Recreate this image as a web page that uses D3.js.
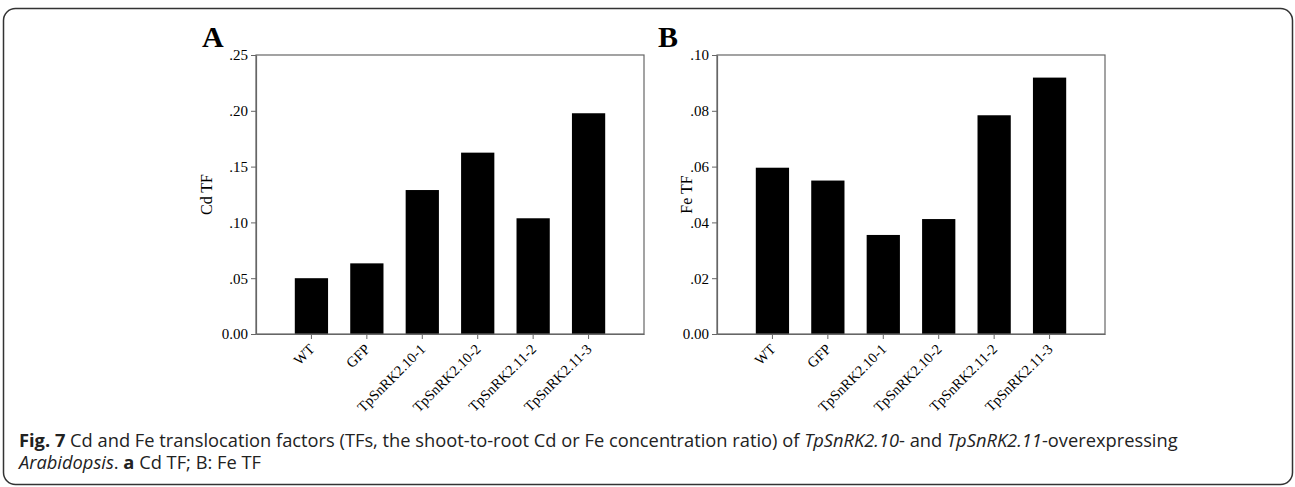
<!DOCTYPE html>
<html>
<head>
<meta charset="utf-8">
<script src="https://cdn.jsdelivr.net/npm/d3@7"></script>
<style>
  html, body { margin: 0; padding: 0; background: #fff; }
  svg { display: block; }
</style>
</head>
<body>
<svg id="chart" width="1295" height="487"></svg>
<script>
const categories = ["WT", "GFP", "TpSnRK2.10-1", "TpSnRK2.10-2", "TpSnRK2.11-2", "TpSnRK2.11-3"];
const cdValues = [0.050, 0.0633, 0.129, 0.1625, 0.1037, 0.1978];
const feValues = [0.0596, 0.0550, 0.0355, 0.0412, 0.0784, 0.0919];
const cdTicks = [0, 0.05, 0.10, 0.15, 0.20, 0.25];
const feTicks = [0, 0.02, 0.04, 0.06, 0.08, 0.10];
const cdTickLabels = ["0.00", ".05", ".10", ".15", ".20", ".25"];
const feTickLabels = ["0.00", ".02", ".04", ".06", ".08", ".10"];

const svg = d3.select("#chart");

// outer rounded frame
svg.append("rect")
  .attr("x", 3.5).attr("y", 8.5)
  .attr("width", 1289).attr("height", 476)
  .attr("rx", 12).attr("ry", 12)
  .attr("fill", "none").attr("stroke", "#333").attr("stroke-width", 1.5);

const serif = "'Liberation Serif', 'Times New Roman', serif";

function panel(opts) {
  const { left, top, width, height, values, ticks, tickLabels, yMax, yLabel, letter, letterX, yLabelX } = opts;
  const g = svg.append("g").attr("transform", `translate(${left},${top})`);
  const x = d3.scaleBand().domain(categories).range([0, width]).paddingInner(0.4).paddingOuter(0.7);
  const y = d3.scaleLinear().domain([0, yMax]).range([height, 0]);

  // bars
  g.selectAll("rect.bar").data(values).enter().append("rect")
    .attr("class", "bar")
    .attr("x", (d, i) => x(categories[i]))
    .attr("y", d => y(d))
    .attr("width", x.bandwidth())
    .attr("height", d => height - y(d))
    .attr("fill", "#000");

  // box
  g.append("rect").attr("x", 0).attr("y", 0).attr("width", width).attr("height", height)
    .attr("fill", "none").attr("stroke", "#666").attr("stroke-width", 1.2);

  // y axis
  const yAxis = d3.axisLeft(y).tickValues(ticks).tickFormat((d, i) => tickLabels[i]).tickSize(5).tickSizeOuter(0);
  const ya = g.append("g").call(yAxis);
  ya.attr("font-size", null).attr("font-family", null);
  ya.select(".domain").attr("stroke", "#666").attr("stroke-width", 1.2);
  ya.selectAll(".tick line").attr("stroke", "#666");
  ya.selectAll(".tick text").style("font-family", serif).style("font-size", "15px").attr("fill", "#000").attr("x", -8);

  // x axis
  const xAxis = d3.axisBottom(x).tickSize(5).tickSizeOuter(0);
  const xa = g.append("g").attr("transform", `translate(0,${height})`).call(xAxis);
  xa.attr("font-size", null).attr("font-family", null);
  xa.select(".domain").attr("stroke", "#666").attr("stroke-width", 1.2);
  xa.selectAll(".tick line").attr("stroke", "#666");
  xa.selectAll(".tick text")
    .style("font-family", serif).style("font-size", "14.5px").attr("fill", "#000")
    .attr("text-anchor", "end")
    .attr("dy", 0).attr("y", 0)
    .attr("transform", "translate(4,16) rotate(-45)");

  // y label
  svg.append("text")
    .attr("transform", `translate(${yLabelX},${top + height / 2}) rotate(-90)`)
    .attr("text-anchor", "middle")
    .style("font-family", serif).style("font-size", "16px").attr("fill", "#000")
    .text(yLabel);

  // panel letter
  svg.append("text")
    .attr("x", letterX).attr("y", 47)
    .style("font-family", serif).style("font-size", "30px").attr("font-weight", "bold").attr("fill", "#000")
    .text(letter);
}

panel({ left: 256, top: 55, width: 388, height: 279, values: cdValues, ticks: cdTicks, tickLabels: cdTickLabels,
        yMax: 0.25, yLabel: "Cd TF", letter: "A", letterX: 202, yLabelX: 212 });
panel({ left: 717, top: 55, width: 388, height: 279, values: feValues, ticks: feTicks, tickLabels: feTickLabels,
        yMax: 0.10, yLabel: "Fe TF", letter: "B", letterX: 658, yLabelX: 692 });

// caption
const sans = "'Open Sans', 'Noto Sans', sans-serif";
const cap1 = svg.append("text").attr("x", 19).attr("y", 447)
  .style("font-family", sans).style("font-size", "18.3px").attr("fill", "#222");
cap1.append("tspan").attr("font-weight", "bold").text("Fig. 7");
cap1.append("tspan").text(" Cd and Fe translocation factors (TFs, the shoot-to-root Cd or Fe concentration ratio) of ");
cap1.append("tspan").attr("font-style", "italic").text("TpSnRK2.10");
cap1.append("tspan").text("- and ");
cap1.append("tspan").attr("font-style", "italic").text("TpSnRK2.11");
cap1.append("tspan").text("-overexpressing");

const cap2 = svg.append("text").attr("x", 19).attr("y", 469)
  .style("font-family", sans).style("font-size", "18.3px").attr("fill", "#222");
cap2.append("tspan").attr("font-style", "italic").text("Arabidopsis");
cap2.append("tspan").text(". ");
cap2.append("tspan").attr("font-weight", "bold").text("a");
cap2.append("tspan").text(" Cd TF; B: Fe TF");
</script>
</body>
</html>
